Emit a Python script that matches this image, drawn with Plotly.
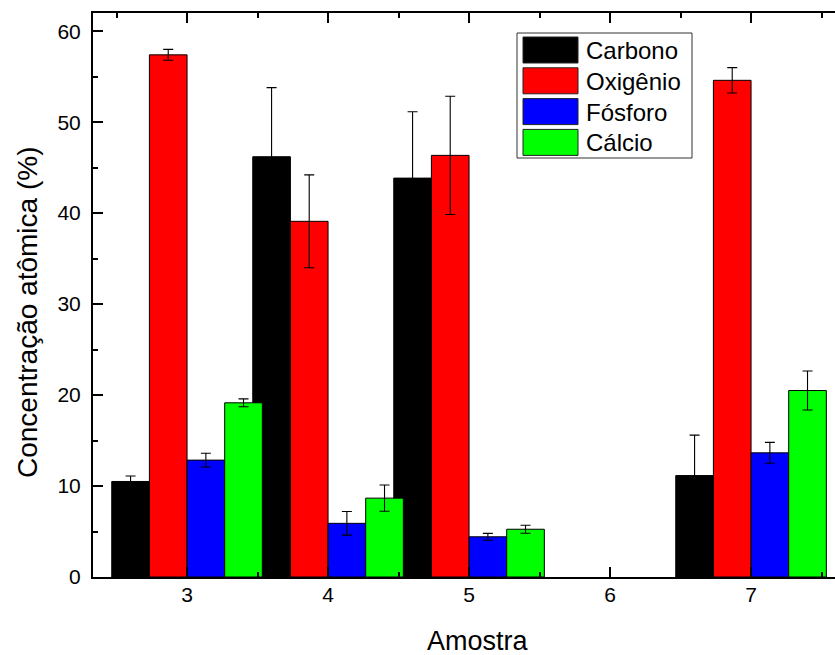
import plotly.graph_objects as go

# ---------------- data ----------------
amostras = [3, 4, 5, 6, 7]
series_names = ["Carbono", "Oxigênio", "Fósforo", "Cálcio"]
series_colors = ["#000000", "#ff0000", "#0000ff", "#00ff00"]

carbono = [10.5, 46.2, 43.85, None, 11.15]
carbono_err = [0.6, 7.6, 7.3, None, 4.45]
oxigenio = [57.4, 39.1, 46.35, None, 54.6]
oxigenio_err = [0.6, 5.1, 6.5, None, 1.4]
fosforo = [12.85, 5.9, 4.42, None, 13.65]
fosforo_err = [0.75, 1.3, 0.38, None, 1.15]
calcio = [19.15, 8.67, 5.25, None, 20.5]
calcio_err = [0.43, 1.45, 0.44, None, 2.15]

values = [carbono, oxigenio, fosforo, calcio]
errors = [carbono_err, oxigenio_err, fosforo_err, calcio_err]

y_ticks = [0, 10, 20, 30, 40, 50, 60]

# ---------------- layout geometry ----------------
W, H = 835, 655
L, R, T, B = 93, 0, 13, 78
plot_w = W - L - R
plot_h = H - T - B
bar_w = 0.267
FONT = "Liberation Sans, Arial, sans-serif"


def px2x(px):
    return (px - L) / plot_w


def py2y(py):
    return (H - B - py) / plot_h


fig = go.Figure()
n = len(series_names)
for i, (name, col, vals, errs) in enumerate(zip(series_names, series_colors, values, errors)):
    fig.add_trace(go.Bar(
        x=amostras,
        y=vals,
        name=name,
        width=bar_w,
        offset=(i - n / 2) * bar_w,
        marker=dict(color=col, line=dict(color="#000000", width=1)),
        error_y=dict(type="data", array=errs, visible=True,
                     color="#000000", thickness=1.1, width=5),
        showlegend=False,
    ))

# ---------------- custom legend (large swatches) ----------------
shapes = []
annotations = []
leg_x0, leg_x1, leg_y0, leg_y1 = 517, 692, 33, 158
shapes.append(dict(type="rect", xref="paper", yref="paper",
                   x0=px2x(leg_x0), x1=px2x(leg_x1), y0=py2y(leg_y1), y1=py2y(leg_y0),
                   line=dict(color="#333333", width=1), fillcolor="white", layer="above"))
row_h = 30.8
for i, (name, col) in enumerate(zip(series_names, series_colors)):
    top = 37 + i * row_h
    shapes.append(dict(type="rect", xref="paper", yref="paper",
                       x0=px2x(523), x1=px2x(578), y0=py2y(top + 26), y1=py2y(top),
                       line=dict(color="#222222", width=1), fillcolor=col, layer="above"))
    annotations.append(dict(xref="paper", yref="paper", x=px2x(584), y=py2y(top + 13.5),
                            text=name, showarrow=False, xanchor="left", yanchor="middle",
                            font=dict(family=FONT, size=24, color="black")))

# axis titles
annotations.append(dict(xref="paper", yref="paper", x=px2x(478), y=py2y(655),
                        text="Amostra", showarrow=False, xanchor="center", yanchor="bottom",
                        font=dict(family=FONT, size=27, color="black"), yshift=-3))
annotations.append(dict(xref="paper", yref="paper", x=px2x(27), y=py2y(313),
                        text="Concentração atômica (%)", showarrow=False, textangle=-90,
                        xanchor="center", yanchor="middle",
                        font=dict(family=FONT, size=28, color="black")))

fig.update_layout(
    width=W, height=H,
    margin=dict(l=L, r=R, t=T, b=B, pad=0),
    paper_bgcolor="white", plot_bgcolor="white",
    barmode="overlay",
    shapes=shapes,
    annotations=annotations,
    font=dict(family=FONT, size=21, color="black"),
    showlegend=False,
)

fig.update_xaxes(
    range=[2.333, 2.333 + plot_w / 141.0],
    tickmode="array", tickvals=amostras, ticktext=[str(a) for a in amostras],
    showline=True, linecolor="black", linewidth=2, mirror="ticks",
    ticks="inside", ticklen=10, tickwidth=2, tickcolor="black",
    minor=dict(dtick=0.5, tick0=2.5, ticks="inside", ticklen=5, tickwidth=2, tickcolor="black"),
    showgrid=False, zeroline=False,
    tickfont=dict(family=FONT, size=21, color="black"),
    ticklabelstandoff=-2,
)
fig.update_yaxes(
    range=[0, 62],
    tickmode="array", tickvals=y_ticks,
    showline=True, linecolor="black", linewidth=2, mirror=False,
    ticks="inside", ticklen=10, tickwidth=2, tickcolor="black",
    minor=dict(dtick=5, tick0=0, ticks="inside", ticklen=5, tickwidth=2, tickcolor="black"),
    showgrid=False, zeroline=False,
    tickfont=dict(family=FONT, size=21, color="black"),
    ticklabelstandoff=6,
)

fig.write_html("out.html")
